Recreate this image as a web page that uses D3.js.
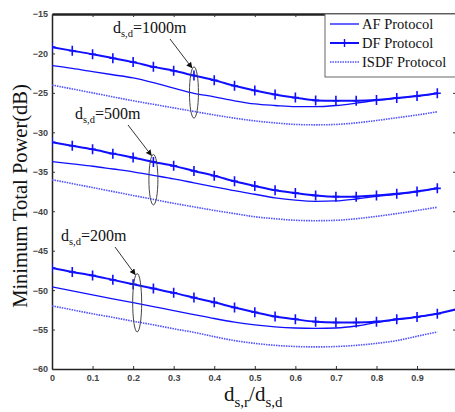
<!DOCTYPE html>
<html>
<head>
<meta charset="utf-8">
<script src="https://cdn.jsdelivr.net/npm/d3@7"></script>
<style>
	body { margin: 0; background: #fff; }
	svg { display: block; }
</style>
</head>
<body>
<div class="chart"></div>
<script>
	'use strict';

	// x values (d_sr / d_sd)
	var ratio = [0, 0.05, 0.1, 0.15, 0.2, 0.25, 0.3, 0.35, 0.4, 0.45, 0.5,
		0.55, 0.6, 0.65, 0.7, 0.75, 0.8, 0.85, 0.9, 0.95];

	// d_sd = 1000m
	var af1000 = [-21.55, -21.9, -22.3, -22.7, -23.1, -23.7, -24.4, -25.05, -25.5, -26.0,
		-26.4, -26.6, -26.75, -26.75, -26.6, -26.3, -25.95, -25.65, -25.4, -25.05];
	var df1000 = [-19.2, -19.65, -20.1, -20.6, -21.1, -21.7, -22.2, -22.8, -23.4, -24.1,
		-24.7, -25.2, -25.6, -25.95, -26.0, -26.0, -25.9, -25.65, -25.4, -25.05];
	var isdf1000 = [-24.0, -24.5, -25.0, -25.5, -26.0, -26.45, -26.9, -27.35, -27.8, -28.2,
		-28.55, -28.8, -29.0, -29.05, -29.0, -28.8, -28.5, -28.15, -27.8, -27.4];

	// d_sd = 500m
	var af500 = [-33.7, -34.0, -34.3, -34.65, -35.0, -35.45, -35.9, -36.4, -36.9, -37.4,
		-37.85, -38.3, -38.6, -38.75, -38.7, -38.45, -38.1, -37.85, -37.5, -37.1];
	var df500 = [-31.25, -31.7, -32.15, -32.7, -33.2, -33.75, -34.25, -34.9, -35.5, -36.2,
		-36.8, -37.35, -37.7, -38.0, -38.15, -38.15, -38.0, -37.8, -37.5, -37.1];
	var isdf500 = [-36.0, -36.5, -37.0, -37.5, -38.0, -38.5, -39.0, -39.45, -39.9, -40.3,
		-40.7, -40.95, -41.15, -41.2, -41.15, -40.95, -40.65, -40.3, -39.9, -39.5];

	// d_sd = 200m
	var af200 = [-49.6, -50.1, -50.6, -51.1, -51.6, -52.1, -52.6, -53.1, -53.6, -54.05,
		-54.4, -54.65, -54.8, -54.85, -54.8, -54.55, -54.1, -53.75, -53.4, -53.0];
	var df200 = [-47.2, -47.7, -48.15, -48.7, -49.25, -49.8, -50.35, -50.95, -51.55, -52.2,
		-52.8, -53.35, -53.7, -54.0, -54.1, -54.1, -54.0, -53.7, -53.4, -53.0];
	var isdf200 = [-52.0, -52.5, -53.0, -53.45, -53.95, -54.4, -54.9, -55.35, -55.9, -56.4,
		-56.75, -57.0, -57.15, -57.2, -57.15, -57.0, -56.75, -56.4, -55.85, -55.3];
	// the 200m DF curve runs on past the last marker
	var df200Tail = [[0.95, -53.0], [1.0, -52.4]];

	var xTicks = [0, 0.1, 0.2, 0.3, 0.4, 0.5, 0.6, 0.7, 0.8, 0.9];
	var yTicks = [-15, -20, -25, -30, -35, -40, -45, -50, -55, -60];
	var legendNames = ['AF Protocol', 'DF Protocol', 'ISDF Protocol'];

	// annotations: label, x of the ellipse, ellipse top/bottom (dB)
	var notes = [
		{ dist: '1000m', at: 0.35, top: -21.7, bottom: -28.2 },
		{ dist: '500m', at: 0.25, top: -32.8, bottom: -39.2 },
		{ dist: '200m', at: 0.21, top: -47.9, bottom: -55.3 }
	];

	var W = 455, H = 412;
	var svg = d3.select('.chart').append('svg').attr('width', W).attr('height', H);

	var x = d3.scaleLinear().domain([0, 1]).range([52, 457.6]);
	var y = d3.scaleLinear().domain([-60, -15]).range([369, 14]);

	var blue = '#1010ff';
	var serif = '"Liberation Serif", "DejaVu Serif", serif';

	svg.append('clipPath').attr('id', 'plot')
		.append('rect').attr('x', 52).attr('y', 14).attr('width', W - 52).attr('height', 355);

	// axes, ticks inside like matlab
	var gx = svg.append('g').attr('transform', 'translate(0,369)')
		.call(d3.axisBottom(x).tickValues(xTicks).tickSizeInner(-3).tickSizeOuter(0)
			.tickFormat(function(d) { return d === 0 ? '0' : d3.format('.1f')(d); }));
	var gy = svg.append('g').attr('transform', 'translate(52,0)')
		.call(d3.axisLeft(y).tickValues(yTicks).tickSizeInner(-3).tickSizeOuter(0));
	var gr = svg.append('g').attr('transform', 'translate(456,0)')
		.call(d3.axisRight(y).tickValues(yTicks).tickSizeInner(-3).tickSizeOuter(0).tickFormat(''));
	var gt = svg.append('g').attr('transform', 'translate(0,14)')
		.call(d3.axisTop(x).tickValues(xTicks).tickSizeInner(-3).tickSizeOuter(0).tickFormat(''));

	[gx, gy, gr, gt].forEach(function(g) {
		g.select('.domain').attr('stroke', '#222').attr('stroke-width', 1.5);
		g.selectAll('.tick line').attr('stroke', '#333');
		g.selectAll('.tick text')
			.attr('font-family', 'Arial, "Liberation Sans", sans-serif')
			.attr('font-size', 9).attr('font-weight', 'bold').attr('fill', '#444');
	});
	gx.selectAll('.tick text').attr('dy', '0.6em').attr('y', 7);
	gy.selectAll('.tick text').attr('x', -4);
	gt.select('.domain').attr('stroke-width', 2.5);

	var plot = svg.append('g').attr('clip-path', 'url(#plot)');

	var line = d3.line()
		.x(function(d) { return x(d[0]); })
		.y(function(d) { return y(d[1]); })
		.curve(d3.curveMonotoneX);

	function pairs(vals) {
		return vals.map(function(v, i) { return [ratio[i], v]; });
	}

	var groups = [
		{ af: af1000, df: df1000, isdf: isdf1000, tail: null },
		{ af: af500, df: df500, isdf: isdf500, tail: null },
		{ af: af200, df: df200, isdf: isdf200, tail: df200Tail }
	];

	groups.forEach(function(gp) {
		plot.append('path').datum(pairs(gp.isdf))
			.attr('d', line).attr('fill', 'none').attr('stroke', '#5050ff')
			.attr('stroke-width', 1.6).attr('stroke-dasharray', '1.5,1');
		plot.append('path').datum(pairs(gp.af))
			.attr('d', line).attr('fill', 'none').attr('stroke', blue)
			.attr('stroke-width', 1.3);
		plot.append('path').datum(pairs(gp.df))
			.attr('d', line).attr('fill', 'none').attr('stroke', blue)
			.attr('stroke-width', 2);
		if (gp.tail) {
			plot.append('path').datum(gp.tail)
				.attr('d', line).attr('fill', 'none').attr('stroke', blue)
				.attr('stroke-width', 2);
		}
		plot.selectAll(null).data(pairs(gp.df)).enter().append('path')
			.attr('transform', function(d) { return 'translate(' + x(d[0]) + ',' + y(d[1]) + ')'; })
			.attr('d', 'M-3.5,0H3.5M0,-5V5')
			.attr('stroke', blue).attr('stroke-width', 1.6);
	});

	// ellipses, arrows and labels
	svg.append('defs').append('marker').attr('id', 'arr')
		.attr('viewBox', '0 0 10 10').attr('refX', 9).attr('refY', 5)
		.attr('markerWidth', 6).attr('markerHeight', 6).attr('orient', 'auto')
		.append('path').attr('d', 'M0,0L10,5L0,10z').attr('fill', '#111');

	var labelPos = [[113, 33], [75, 119], [61, 241]];
	var arrowFrom = [[170, 39], [128, 125], [115, 247]];

	notes.forEach(function(n, i) {
		var cx = x(n.at), top = y(n.top), bottom = y(n.bottom);
		svg.append('ellipse')
			.attr('cx', cx).attr('cy', (top + bottom) / 2)
			.attr('rx', 4.5).attr('ry', (bottom - top) / 2)
			.attr('fill', 'none').attr('stroke', '#444').attr('stroke-width', 1);
		svg.append('line')
			.attr('x1', arrowFrom[i][0]).attr('y1', arrowFrom[i][1])
			.attr('x2', cx - 2).attr('y2', top + 1)
			.attr('stroke', '#333').attr('stroke-width', 1)
			.attr('marker-end', 'url(#arr)');
		var t = svg.append('text')
			.attr('x', labelPos[i][0]).attr('y', labelPos[i][1])
			.attr('font-family', serif).attr('font-size', 16).attr('fill', '#111');
		t.append('tspan').text('d');
		t.append('tspan').attr('font-size', 10.5).attr('dy', 4).text('s,d');
		t.append('tspan').attr('dy', -4).text('=' + n.dist);
	});

	// legend
	var lg = svg.append('g');
	lg.append('rect').attr('x', 325).attr('y', 14).attr('width', 140).attr('height', 63)
		.attr('fill', '#fff').attr('stroke', '#666').attr('stroke-width', 1);
	var ly = [24, 43, 62];
	legendNames.forEach(function(name, i) {
		var ln = lg.append('line').attr('x1', 330).attr('x2', 359)
			.attr('y1', ly[i]).attr('y2', ly[i]).attr('stroke', blue);
		if (i === 0) ln.attr('stroke-width', 1.3);
		if (i === 1) {
			ln.attr('stroke-width', 2);
			lg.append('path').attr('d', 'M344.5,' + (ly[i] - 4) + 'V' + (ly[i] + 4))
				.attr('stroke', blue).attr('stroke-width', 1.4);
		}
		if (i === 2) ln.attr('stroke', '#5050ff').attr('stroke-width', 1.6).attr('stroke-dasharray', '1.5,1');
		lg.append('text').attr('x', 362).attr('y', ly[i] + 5)
			.attr('font-family', serif).attr('font-size', 14.5).attr('fill', '#111')
			.text(name);
	});

	// axis titles
	svg.append('text')
		.attr('transform', 'translate(27,196) rotate(-90)')
		.attr('text-anchor', 'middle')
		.attr('font-family', serif).attr('font-size', 20.5).attr('fill', '#111')
		.text('Minimum Total Power(dB)');

	var xl = svg.append('text').attr('x', 224).attr('y', 401)
		.attr('font-family', serif).attr('font-size', 21).attr('fill', '#111');
	xl.append('tspan').text('d');
	xl.append('tspan').attr('font-size', 15).attr('dy', 6).text('s,r');
	xl.append('tspan').attr('dy', -6).text('/d');
	xl.append('tspan').attr('font-size', 15).attr('dy', 6).text('s,d');
</script>
</body>
</html>
